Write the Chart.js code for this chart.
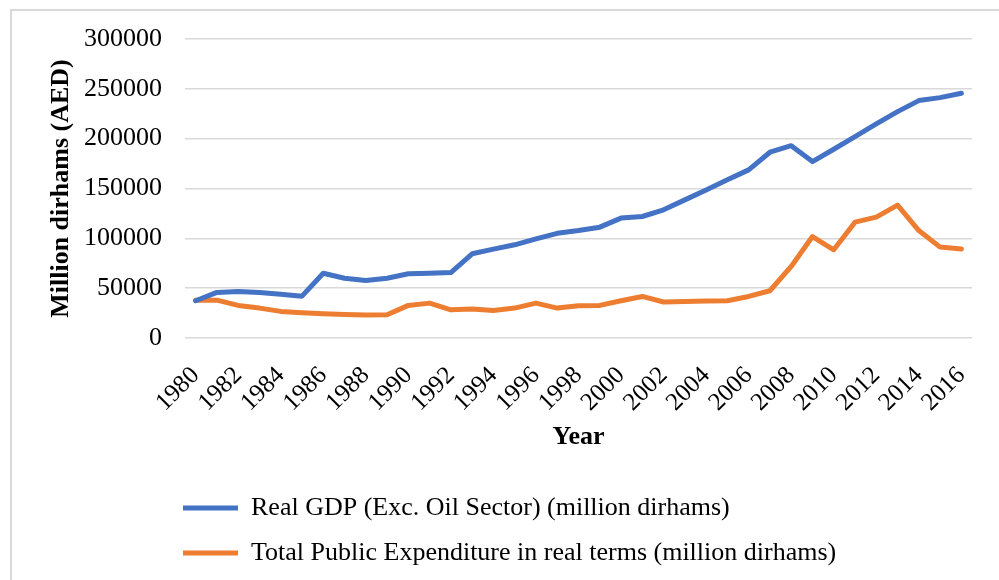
<!DOCTYPE html>
<html>
<head>
<meta charset="utf-8">
<script src="https://cdn.jsdelivr.net/npm/chart.js@4.4.1/dist/chart.umd.min.js"></script>
<style>
    html, body { margin: 0; padding: 0; background: #fff; }
    #wrap { position: relative; width: 999px; height: 580px; overflow: hidden; }
    #frame {
        position: absolute; left: 10px; top: 9px;
        width: 1000px; height: 600px;
        border: 2px solid #d9d9d9; box-sizing: border-box;
    }
    #chart { position: absolute; left: 0; top: 0; }
</style>
</head>
<body>
<div id="wrap">
    <div id="frame"></div>
    <canvas id="chart" width="999" height="580"></canvas>
</div>
<script>
// Annual series, 1980-2016 (million dirhams, real terms)
const years = [
    '1980', '1981', '1982', '1983', '1984', '1985', '1986', '1987', '1988', '1989',
    '1990', '1991', '1992', '1993', '1994', '1995', '1996', '1997', '1998', '1999',
    '2000', '2001', '2002', '2003', '2004', '2005', '2006', '2007', '2008', '2009',
    '2010', '2011', '2012', '2013', '2014', '2015', '2016'
];

const realGdp = [
    37400, 45700, 46700, 45700, 44000, 42000, 65000, 60000, 57700, 60000,
    64400, 65000, 65700, 84500, 89200, 93500, 99500, 105000, 107800, 111200,
    120300, 121900, 128600, 138600, 148600, 158700, 168700, 186400, 193000, 177000,
    189400, 202000, 214800, 227100, 238200, 241200, 245500
];

const publicExpenditure = [
    38000, 38000, 32700, 30000, 26700, 25300, 24300, 23600, 23000, 23300,
    32700, 35000, 28300, 29000, 27700, 30000, 35000, 30000, 32400, 32700,
    37400, 41700, 36100, 36700, 37000, 37400, 41700, 47400, 71800, 101800,
    88500, 116200, 121300, 133300, 107800, 91200, 89200
];

const seriesNames = [
    'Real GDP (Exc. Oil Sector) (million dirhams)',
    'Total Public Expenditure in real terms (million dirhams)'
];

const yTicks = { min: 0, max: 300000, step: 50000 };

const SERIF = "'Liberation Serif', 'Times New Roman', serif";
Chart.defaults.font.family = SERIF;
Chart.defaults.color = '#000';

// legend sits left-aligned under the plot, not flush with the canvas edge
const legendPlacer = {
    id: 'legendPlacer',
    afterLayout(chart) {
        const legend = chart.legend;
        if (!legend) return;
        legend.left = 164;
        legend.top = 476;
    }
};

function lineDataset(label, data, color) {
    return {
        label: label,
        data: data,
        borderColor: color,
        backgroundColor: color,
        borderWidth: 5,
        borderCapStyle: 'round',
        borderJoinStyle: 'round',
        tension: 0,
        fill: false,
        pointRadius: 0,
        pointHoverRadius: 0
    };
}

new Chart(document.getElementById('chart'), {
    type: 'line',
    data: {
        labels: years,
        datasets: [
            lineDataset(seriesNames[0], realGdp, '#4472c4'),
            lineDataset(seriesNames[1], publicExpenditure, '#ed7d31')
        ]
    },
    plugins: [legendPlacer],
    options: {
        responsive: false,
        devicePixelRatio: 1,
        animation: false,
        layout: {
            padding: { top: 39, left: 0, right: 27, bottom: 0 }
        },
        plugins: {
            tooltip: { enabled: false },
            legend: {
                position: 'bottom',
                align: 'start',
                labels: {
                    usePointStyle: true,
                    pointStyle: 'line',
                    pointStyleWidth: 55,
                    padding: 19,
                    color: '#000',
                    font: { size: 26 }
                }
            }
        },
        scales: {
            x: {
                offset: true,
                grid: { display: false },
                border: { display: false },
                ticks: {
                    autoSkip: false,
                    minRotation: 45,
                    maxRotation: 45,
                    padding: 15,
                    color: '#000',
                    font: { size: 25 },
                    callback: function(value, index) {
                        return index % 2 === 0 ? years[index] : '';
                    }
                },
                title: {
                    display: true,
                    text: 'Year',
                    color: '#000',
                    font: { size: 26, weight: 'bold' },
                    padding: { top: 0, bottom: 27 }
                },
                afterFit: function(scale) {
                    const legendHeight = scale.chart.legend ? scale.chart.legend.height : 0;
                    scale.height = 580 - 338 - legendHeight;
                }
            },
            y: {
                min: yTicks.min,
                max: yTicks.max,
                grid: {
                    color: '#d9d9d9',
                    lineWidth: 1.4,
                    drawTicks: false
                },
                border: { display: false },
                ticks: {
                    stepSize: yTicks.step,
                    padding: 23,
                    color: '#000',
                    font: { size: 26 },
                    // plain integers, no thousands separator
                    callback: function(value) {
                        return String(value);
                    }
                },
                title: {
                    display: true,
                    text: 'Million dirhams (AED)',
                    color: '#000',
                    font: { size: 26, weight: 'bold' },
                    padding: { top: 46, bottom: 0 }
                },
                afterFit: function(scale) {
                    scale.width = 185;
                }
            }
        }
    }
});
</script>
</body>
</html>
